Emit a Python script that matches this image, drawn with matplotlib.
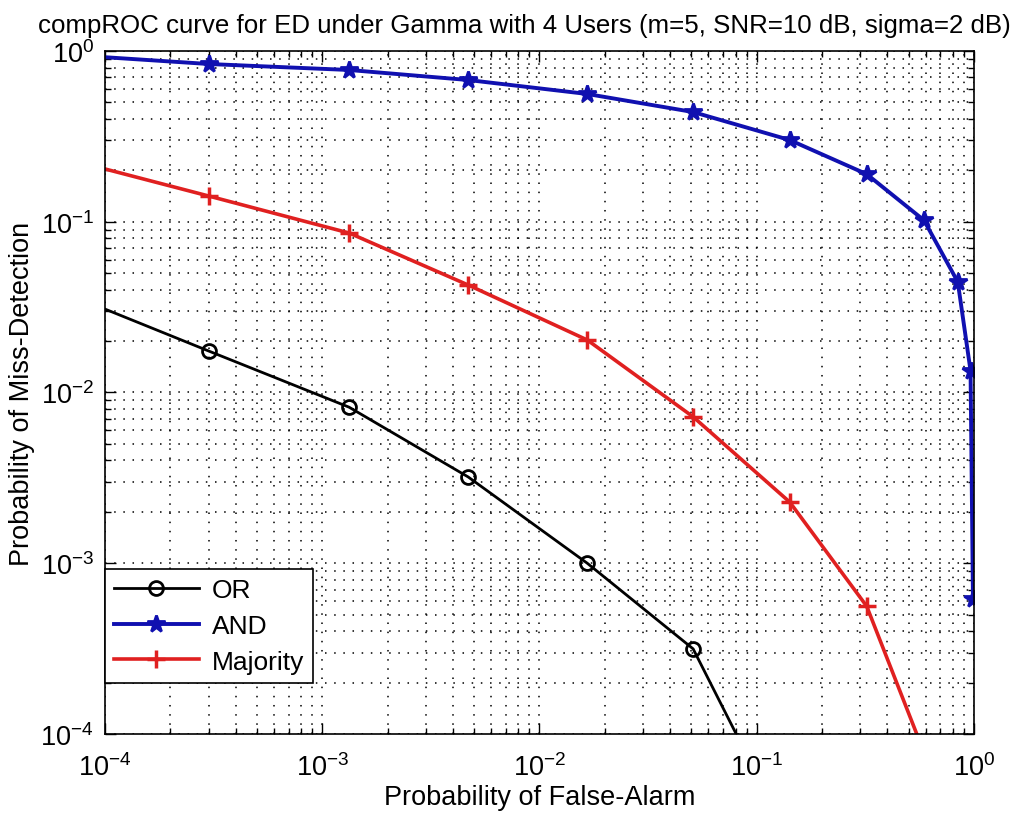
import numpy as np
import matplotlib
matplotlib.use("Agg")
import matplotlib.pyplot as plt
from matplotlib.ticker import LogLocator, NullFormatter

plt.rcParams['font.family'] = ['Liberation Sans', 'DejaVu Sans']
plt.rcParams['mathtext.fontset'] = 'custom'
plt.rcParams['mathtext.rm'] = 'Liberation Sans'
plt.rcParams['mathtext.it'] = 'Liberation Sans'

# probability of false alarm (same threshold sweep for every rule)
pfa_or = [5.6e-5, 3.0e-4, 1.33e-3, 4.7e-3, 1.66e-2, 5.1e-2, 0.142]
pmd_or = [4.15e-2, 1.75e-2, 8.2e-3, 3.2e-3, 1.0e-3, 3.15e-4, 2.4e-5]

pfa_and = [5.6e-5, 3.0e-4, 1.33e-3, 4.7e-3, 1.66e-2, 5.1e-2, 0.142, 0.321,
           0.589, 0.843, 0.965, 0.99]
pmd_and = [0.965, 0.839, 0.774, 0.676, 0.56, 0.439, 0.301, 0.19,
           0.102, 0.0444, 0.0134, 6.2e-4]

pfa_maj = [5.6e-5, 3.0e-4, 1.33e-3, 4.7e-3, 1.66e-2, 5.1e-2, 0.142, 0.321, 0.589]
pmd_maj = [0.247, 0.1415, 0.0859, 0.0426, 0.0203, 0.0072, 2.28e-3, 5.6e-4, 7.8e-5]

title = 'compROC curve for ED under Gamma with 4 Users (m=5, SNR=10 dB, sigma=2 dB)'

fig = plt.figure(figsize=(10.32, 8.2), dpi=100)
ax = fig.add_axes([0.1017, 0.1037, 0.842, 0.8329])

ax.loglog(pfa_or, pmd_or, color='black', lw=2, marker='o', ms=10,
          mfc='none', mew=2, label='OR')
ax.loglog(pfa_and, pmd_and, color='#1010b0', lw=2.8, marker='*', ms=13,
          mew=2, label='AND')
ax.loglog(pfa_maj, pmd_maj, color='#e02020', lw=2.6, marker='+', ms=13,
          mew=2.5, label='Majority')

ax.set_xlim(1e-4, 1)
ax.set_ylim(1e-4, 1)

for axis in (ax.xaxis, ax.yaxis):
    axis.set_major_locator(LogLocator(base=10, numticks=10))
    axis.set_minor_locator(LogLocator(base=10, subs=np.arange(2, 10), numticks=20))
    axis.set_minor_formatter(NullFormatter())

ax.grid(True, which='both', color='black', linestyle=(0, (1, 5)), lw=1.1)
ax.tick_params(which='both', direction='in', top=True, right=True,
               labelsize=19.5, width=1)
ax.tick_params(which='major', length=8)
ax.tick_params(axis='x', which='major', pad=14)
ax.tick_params(axis='y', which='major', pad=8)
ax.tick_params(which='minor', length=4)
for s in ax.spines.values():
    s.set_linewidth(1.2)

ax.set_title(title, fontsize=18.6, pad=14, x=0.483)
ax.set_xlabel('Probability of False-Alarm', fontsize=19.5, labelpad=2)
ax.set_ylabel('Probability of Miss-Detection', fontsize=19.5, labelpad=4)

leg = ax.legend(loc='lower left', bbox_to_anchor=(0, 0.0747), fontsize=19,
                fancybox=False, framealpha=1, edgecolor='black',
                borderaxespad=0, handlelength=3.2, handletextpad=0.5,
                borderpad=0.35, labelspacing=0.45)
leg.get_frame().set_linewidth(1.2)

fig.savefig('out.png', dpi=100)
